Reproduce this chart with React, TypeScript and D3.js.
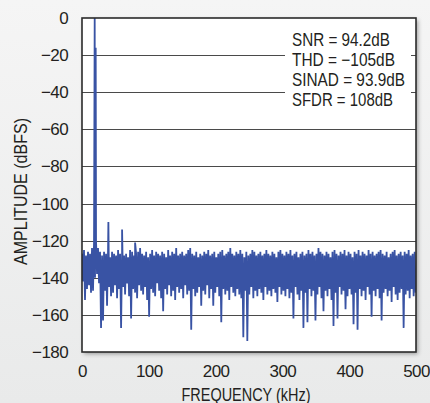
import * as d3 from "d3";
import React from "react";

// FFT spectrum
const xTicks = [0, 100, 200, 300, 400, 500];
const yTicks = [0, -20, -40, -60, -80, -100, -120, -140, -160, -180];
const legendLines = ["SNR = 94.2dB", "THD = \u2212105dB", "SINAD = 93.9dB", "SFDR = 108dB"];
const legendWidths = [98, 103, 113, 101];

// noise floor: one top and one bottom reading every 3kHz (bottom sits 1.5kHz later)
const binStep = 3;
const noiseHigh = [
  -127, -125, -128, -126, -127, -124, -121, -120, -124, -126,
  -128, -126, -127, -125, -129, -126, -127, -128, -125, -127,
  -126, -128, -127, -129, -125, -126, -128, -127, -126, -124,
  -127, -128, -126, -129, -127, -125, -128, -126, -127, -128,
  -126, -127, -129, -125, -128, -126, -127, -124, -128, -127,
  -126, -128, -127, -125, -124, -127, -128, -126, -129, -127,
  -128, -126, -127, -125, -128, -127, -126, -129, -127, -126,
  -125, -128, -127, -126, -124, -127, -128, -126, -127, -125,
  -127, -129, -126, -128, -127, -125, -126, -128, -127, -126,
  -128, -127, -125, -127, -128, -126, -127, -129, -126, -125,
  -127, -128, -126, -127, -125, -128, -127, -126, -129, -127,
  -126, -128, -127, -125, -127, -126, -128, -127, -124, -126,
  -127, -128, -126, -127, -129, -126, -125, -127, -128, -126,
  -127, -125, -128, -126, -127, -129, -126, -127, -125, -128,
  -126, -127, -128, -125, -127, -126, -128, -127, -126, -125,
  -127, -128, -126, -129, -127, -126, -125, -128, -127, -126,
  -128, -126, -127, -125, -128, -127, -126,
];
const noiseLow = [
  -142, -152, -146, -144, -148, -147, -140, -138, -143, -167,
  -163, -147, -155, -145, -150, -148, -144, -151, -146, -167,
  -145, -149, -143, -150, -162, -146, -148, -151, -144, -147,
  -149, -145, -152, -161, -146, -148, -150, -143, -147, -151,
  -158, -146, -149, -144, -150, -147, -152, -145, -148, -146,
  -151, -144, -149, -147, -168, -146, -150, -148, -145, -155,
  -147, -149, -144, -151, -146, -155, -148, -145, -150, -164,
  -146, -149, -147, -152, -145, -148, -150, -146, -149, -151,
  -172, -147, -174, -149, -145, -151, -147, -150, -146, -148,
  -152, -145, -149, -147, -150, -146, -148, -153, -145, -149,
  -147, -150, -146, -151, -148, -162, -145, -149, -152, -147,
  -167, -148, -164, -146, -150, -147, -163, -149, -145, -151,
  -158, -147, -150, -146, -152, -166, -148, -162, -145, -149,
  -147, -157, -150, -146, -149, -165, -148, -168, -146, -150,
  -147, -152, -145, -149, -161, -147, -150, -146, -151, -163,
  -148, -146, -150, -147, -153, -145, -149, -152, -148, -146,
  -167, -149, -147, -151, -146, -150, -148,
];
// fundamental and harmonics [kHz, dBFS]
const spurs: [number, number][] = [
  [19, 0],
  [20.5, -16],
  [39.5, -110],
  [60, -114],
  [79.5, -121],
];

const FONT = "'Liberation Sans', Arial, sans-serif";
const INK = "#231f20";

const Spectrum = () => {
  const ref = React.useRef<SVGSVGElement>(null);

  React.useEffect(() => {
    const W = 430,
      H = 403;
    const margin = { top: 18, right: 14, bottom: 51, left: 82 };
    const width = W - margin.left - margin.right,
      height = H - margin.top - margin.bottom;

    const svg = d3.select(ref.current);
    svg.selectAll("*").remove();
    svg.attr("width", W).attr("height", H);

    const defs = svg.append("defs");
    const grad = defs
      .append("linearGradient")
      .attr("id", "bg")
      .attr("x1", 0)
      .attr("y1", 0)
      .attr("x2", 0)
      .attr("y2", 1);
    grad.append("stop").attr("offset", "0%").attr("stop-color", "#f5f5f5");
    grad.append("stop").attr("offset", "100%").attr("stop-color", "#e9eaea");
    const shadow = defs.append("filter").attr("id", "shadow").attr("x", "-5%").attr("y", "-5%").attr("width", "115%").attr("height", "115%");
    shadow
      .append("feDropShadow")
      .attr("dx", 2)
      .attr("dy", 2)
      .attr("stdDeviation", 2.2)
      .attr("flood-color", "#000")
      .attr("flood-opacity", 0.35);
    defs
      .append("clipPath")
      .attr("id", "plotclip")
      .append("rect")
      .attr("width", width)
      .attr("height", height);

    svg.append("rect").attr("width", W).attr("height", H).attr("fill", "url(#bg)");

    const graph = svg
      .append("g")
      .attr("transform", "translate(" + margin.left + "," + margin.top + ")");

    const x = d3.scaleLinear().domain([0, 500]).range([0, width]);
    const y = d3.scaleLinear().domain([-180, 0]).range([height, 0]);

    // plot box with shadow
    graph
      .append("rect")
      .attr("width", width)
      .attr("height", height)
      .attr("fill", "#fff")
      .attr("filter", "url(#shadow)");

    // horizontal grid
    graph
      .selectAll(".grid")
      .data(yTicks.slice(1, -1))
      .enter()
      .append("line")
      .attr("x1", 0)
      .attr("x2", width)
      .attr("y1", (d) => Math.round(y(d)) + 0.5)
      .attr("y2", (d) => Math.round(y(d)) + 0.5)
      .attr("stroke", "#4a4a4a")
      .attr("stroke-width", 1.1);

    // build the spectrum: top/bottom zigzag plus spurs
    const pts: [number, number][] = [];
    noiseHigh.forEach((v, i) => {
      pts.push([i * binStep, v]);
      pts.push([i * binStep + binStep / 2, noiseLow[i]]);
    });
    spurs.forEach((s) => pts.push(s));
    pts.sort((a, b) => a[0] - b[0]);

    const line = d3
      .line<[number, number]>()
      .x((d) => x(d[0]))
      .y((d) => y(d[1]));

    graph
      .append("path")
      .datum(pts)
      .attr("clip-path", "url(#plotclip)")
      .attr("d", line)
      .attr("fill", "none")
      .attr("stroke", "#3953a4")
      .attr("stroke-width", 1.8)
      .attr("stroke-linejoin", "miter")
      .attr("stroke-miterlimit", 2);

    // legend box
    const lg = graph.append("g").attr("transform", "translate(" + (x(0) + 203) + ",10)");
    lg.append("rect").attr("width", 126).attr("height", 86).attr("fill", "#fff");
    lg.selectAll("text")
      .data(legendLines)
      .enter()
      .append("text")
      .attr("x", 7)
      .attr("y", (d, i) => 18 + i * 20)
      .attr("font-family", FONT)
      .attr("font-size", 18)
      .attr("textLength", (d, i) => legendWidths[i])
      .attr("lengthAdjust", "spacingAndGlyphs")
      .attr("fill", INK)
      .text((d) => d);

    // frame
    graph
      .append("rect")
      .attr("width", width)
      .attr("height", height)
      .attr("fill", "none")
      .attr("stroke", "#2b2b2b")
      .attr("stroke-width", 1.6);

    // axes (labels only)
    const xAxis = d3.axisBottom(x).tickValues(xTicks).tickSize(0).tickPadding(13);
    const yAxis = d3.axisLeft(y).tickValues(yTicks).tickSize(0).tickPadding(14);

    const xg = graph.append("g").attr("transform", `translate(0, ${height})`).call(xAxis);
    const yg = graph.append("g").call(yAxis);
    [xg, yg].forEach((g) => {
      g.select(".domain").remove();
      g.selectAll("text")
        .attr("font-family", FONT)
        .attr("font-size", 17)
        .attr("letter-spacing", -0.6)
        .attr("fill", INK);
    });

    graph
      .append("text")
      .attr("x", 164)
      .attr("y", height + 49)
      .attr("text-anchor", "middle")
      .attr("font-family", FONT)
      .attr("font-size", 17.5)
      .attr("textLength", 129)
      .attr("lengthAdjust", "spacingAndGlyphs")
      .attr("fill", INK)
      .text("FREQUENCY (kHz)");

    graph
      .append("g")
      .attr("transform", "translate(" + -55 + "," + 173.5 + ")")
      .append("text")
      .attr("transform", "rotate(-90)")
      .attr("text-anchor", "middle")
      .attr("font-family", FONT)
      .attr("font-size", 17.5)
      .attr("textLength", 147)
      .attr("lengthAdjust", "spacingAndGlyphs")
      .attr("fill", INK)
      .text("AMPLITUDE (dBFS)");
  }, []);

  return <svg ref={ref} style={{ position: "absolute", left: 0, top: 0, display: "block" }} />;
};

export default function App() {
  return <Spectrum />;
}
